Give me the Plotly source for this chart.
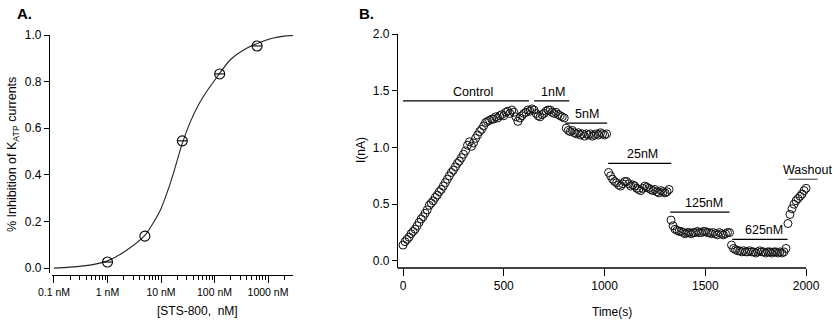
import plotly.graph_objects as go

# ---------------- Panel A data ----------------
conc_nM = [1, 5, 25, 125, 625]
inhibition = [0.026, 0.137, 0.546, 0.833, 0.953]

fit_conc_nM = [0.1, 0.2, 0.5, 1, 2, 5, 7, 10, 14, 17.5, 25, 35, 50, 75, 100, 200, 400, 700, 1200,
               2000, 3000]
fit_inhibition = [0.000, 0.004, 0.014, 0.031, 0.068, 0.140, 0.190, 0.255, 0.345, 0.415, 0.535,
                  0.625, 0.700, 0.765, 0.805, 0.895, 0.943, 0.968, 0.986, 0.995, 0.998]

a_xtick_vals = [0.1, 1, 10, 100, 1000]
a_xtick_text = ["0.1 nM", "1 nM", "10 nM", "100 nM", "1000 nM"]
a_minor_vals = [0.2, 0.3, 0.4, 0.5, 0.6, 0.7, 0.8, 0.9,
                2, 3, 4, 5, 6, 7, 8, 9,
                20, 30, 40, 50, 60, 70, 80, 90,
                200, 300, 400, 500, 600, 700, 800, 900,
                2000, 3000]

# ---------------- Panel B data ----------------
control_t = [0, 10, 20, 30, 40, 50, 60, 70, 80, 90, 100, 110, 120, 130, 140, 150, 160, 170, 180, 190,
             200, 210, 220, 230, 240, 250, 260, 270, 280, 290, 300, 310, 320, 330, 340, 350, 360, 370,
             380, 390, 400, 410, 420, 430, 440, 450, 460, 470, 480, 490, 500, 510, 520, 530, 540, 550,
             560, 570, 580, 590, 600, 610, 620, 630]
control_i = [0.14, 0.17, 0.19, 0.21, 0.24, 0.26, 0.28, 0.31, 0.34, 0.37, 0.39, 0.42, 0.45, 0.49, 0.51,
             0.53, 0.56, 0.58, 0.61, 0.63, 0.66, 0.69, 0.72, 0.75, 0.78, 0.80, 0.83, 0.86, 0.88, 0.91,
             0.94, 0.97, 1.02, 1.05, 1.01, 1.04, 1.08, 1.11, 1.14, 1.16, 1.19, 1.22, 1.23, 1.24, 1.25,
             1.25, 1.27, 1.26, 1.28, 1.29, 1.28, 1.31, 1.32, 1.30, 1.33, 1.31, 1.27, 1.23, 1.26, 1.28,
             1.30, 1.31, 1.33, 1.32]
nm1_t = [640, 650, 660, 670, 680, 690, 700, 710, 720, 730, 740, 750, 760, 770, 780, 790, 800]
nm1_i = [1.34, 1.33, 1.30, 1.28, 1.27, 1.29, 1.30, 1.32, 1.33, 1.33, 1.31, 1.30, 1.31, 1.29, 1.28,
         1.27, 1.26]
nm5_t = [810, 820, 830, 840, 850, 860, 870, 880, 890, 900, 910, 920, 930, 940, 950, 960, 970, 980,
         990, 1000, 1010]
nm5_i = [1.17, 1.15, 1.14, 1.15, 1.13, 1.12, 1.13, 1.11, 1.12, 1.10, 1.12, 1.11, 1.12, 1.10, 1.11,
         1.12, 1.11, 1.13, 1.12, 1.11, 1.12]
nm25_t = [1020, 1030, 1040, 1050, 1060, 1070, 1080, 1090, 1100, 1110, 1120, 1130, 1140, 1150, 1160,
          1170, 1180, 1190, 1200, 1210, 1220, 1230, 1240, 1250, 1260, 1270, 1280, 1290, 1300, 1310,
          1320]
nm25_i = [0.78, 0.75, 0.72, 0.70, 0.69, 0.67, 0.66, 0.68, 0.70, 0.70, 0.68, 0.66, 0.67, 0.66, 0.64,
          0.63, 0.62, 0.64, 0.66, 0.65, 0.64, 0.63, 0.62, 0.63, 0.61, 0.60, 0.62, 0.61, 0.60, 0.61,
          0.63]
nm125_t = [1330, 1340, 1350, 1360, 1370, 1380, 1390, 1400, 1410, 1420, 1430, 1440, 1450, 1460, 1470,
           1480, 1490, 1500, 1510, 1520, 1530, 1540, 1550, 1560, 1570, 1580, 1590, 1600, 1610, 1620]
nm125_i = [0.36, 0.31, 0.28, 0.27, 0.26, 0.26, 0.25, 0.24, 0.25, 0.25, 0.24, 0.25, 0.25, 0.26, 0.25,
           0.25, 0.26, 0.26, 0.25, 0.25, 0.24, 0.25, 0.24, 0.23, 0.25, 0.24, 0.23, 0.24, 0.25, 0.25]
nm625_t = [1630, 1640, 1650, 1660, 1670, 1680, 1690, 1700, 1710, 1720, 1730, 1740, 1750, 1760, 1770,
           1780, 1790, 1800, 1810, 1820, 1830, 1840, 1850, 1860, 1870, 1880, 1890, 1900]
nm625_i = [0.14, 0.11, 0.10, 0.09, 0.09, 0.08, 0.09, 0.08, 0.08, 0.09, 0.08, 0.08, 0.07, 0.08, 0.09,
           0.08, 0.08, 0.07, 0.08, 0.08, 0.07, 0.08, 0.08, 0.07, 0.08, 0.07, 0.08, 0.11]
wash_t = [1910, 1920, 1930, 1940, 1950, 1960, 1970, 1980, 1990, 2000]
wash_i = [0.33, 0.41, 0.46, 0.50, 0.53, 0.55, 0.57, 0.59, 0.62, 0.64]

bar_labels = ["Control", "1nM", "5nM", "25nM", "125nM", "625nM", "Washout"]
bar_start = [0, 650, 805, 1018, 1326, 1634, 1913]
bar_end = [625, 825, 1013, 1331, 1620, 1908, 2057]
bar_level = [1.41, 1.41, 1.215, 0.86, 0.43, 0.19, 0.72]
label_t = [348, 745, 914, 1186, 1495, 1793, 2007]

# ---------------- layout geometry ----------------
W, H = 840, 322
FONT = "Liberation Sans, Arial, sans-serif"
BLACK = "#000000"


def px_x(p):
    return p / W


def px_y(p):
    return 1 - p / H


a_xrange = [-1.037, 3.467]
a_yrange = [-0.021, 1.0]
b_xrange = [-24.8, 2069]
b_yrange = [-0.062, 2.0]
b_axis_end = 2000

fig = go.Figure()

# Panel A: fitted curve
fig.add_trace(go.Scatter(
    x=fit_conc_nM, y=fit_inhibition, mode="lines",
    line=dict(color="#222222", width=1.1, shape="spline", smoothing=0.8),
    xaxis="x", yaxis="y", showlegend=False, hoverinfo="skip", cliponaxis=False))
# Panel A: data points (open circles with inner dash)
fig.add_trace(go.Scatter(
    x=conc_nM, y=inhibition, mode="markers",
    marker=dict(symbol="circle-open", size=10, color=BLACK, line=dict(width=1.1, color=BLACK)),
    xaxis="x", yaxis="y", showlegend=False))
fig.add_trace(go.Scatter(
    x=[c for c in conc_nM if c != 5], y=[v for c, v in zip(conc_nM, inhibition) if c != 5],
    mode="markers",
    marker=dict(symbol="line-ew-open", size=7, color=BLACK, line=dict(width=1.1, color=BLACK)),
    xaxis="x", yaxis="y", showlegend=False, hoverinfo="skip"))

# Panel B: current trace segments
for ts, vs in [(control_t, control_i), (nm1_t, nm1_i), (nm5_t, nm5_i), (nm25_t, nm25_i),
               (nm125_t, nm125_i), (nm625_t, nm625_i), (wash_t, wash_i)]:
    fig.add_trace(go.Scatter(
        x=ts, y=vs, mode="markers",
        marker=dict(symbol="circle-open", size=8, color="#111111", line=dict(width=1, color="#111111")),
        xaxis="x2", yaxis="y2", showlegend=False))

shapes = []
annotations = []
for lab, s, e, lv, lt in zip(bar_labels, bar_start, bar_end, bar_level, label_t):
    col = "#555555" if lab == "Washout" else BLACK
    shapes.append(dict(type="line", xref="x2", yref="y2", x0=s, x1=e, y0=lv, y1=lv,
                       line=dict(color=col, width=1.2)))
    annotations.append(dict(x=lt, y=lv, xref="x2", yref="y2", text=lab, showarrow=False,
                            xanchor="center", yanchor="bottom", yshift=0,
                            font=dict(family=FONT, size=12.5, color=BLACK)))

# Panel B x-axis line ending at t=2000
frac_end = (b_axis_end - b_xrange[0]) / (b_xrange[1] - b_xrange[0])
shapes.append(dict(type="line", xref="x2 domain", yref="y2 domain", x0=0, x1=frac_end, y0=0, y1=0,
                   line=dict(color=BLACK, width=1.4)))

# Titles and panel letters
annotations += [
    dict(x=px_x(15), y=px_y(13), xref="paper", yref="paper", text="<b>A.</b>", showarrow=False,
         xanchor="left", yanchor="middle", font=dict(family=FONT, size=15, color=BLACK)),
    dict(x=px_x(357), y=px_y(13), xref="paper", yref="paper", text="<b>B.</b>", showarrow=False,
         xanchor="left", yanchor="middle", font=dict(family=FONT, size=15, color=BLACK)),
    dict(x=px_x(13), y=px_y(155), xref="paper", yref="paper",
         text="% Inhibition of K<sub>ATP</sub> currents", showarrow=False, textangle=-90,
         xanchor="center", yanchor="middle", font=dict(family=FONT, size=12.5, color=BLACK)),
    dict(x=px_x(197), y=px_y(311), xref="paper", yref="paper", text="[STS-800,\u00a0 nM]",
         showarrow=False, xanchor="center", yanchor="middle",
         font=dict(family=FONT, size=12, color=BLACK)),
    dict(x=px_x(361), y=px_y(150), xref="paper", yref="paper", text="I(nA)", showarrow=False,
         textangle=-90, xanchor="center", yanchor="middle",
         font=dict(family=FONT, size=12, color=BLACK)),
    dict(x=px_x(612), y=px_y(312), xref="paper", yref="paper", text="Time(s)", showarrow=False,
         xanchor="center", yanchor="middle", font=dict(family=FONT, size=12, color=BLACK)),
]

axis_common = dict(showgrid=False, zeroline=False, color=BLACK, linecolor=BLACK,
                   ticks="outside", tickcolor=BLACK, tickwidth=1.2, automargin=False)

fig.update_layout(
    template="none",
    width=W, height=H, margin=dict(l=0, r=0, t=0, b=0, pad=0),
    paper_bgcolor="white", plot_bgcolor="white",
    font=dict(family=FONT, size=12, color=BLACK),
    showlegend=False,
    xaxis=dict(domain=[px_x(52), px_x(293)], type="log", range=a_xrange, anchor="free",
               position=px_y(275),
               tickvals=a_xtick_vals, ticktext=a_xtick_text, ticklen=7,
               tickfont=dict(family=FONT, size=10.5, color=BLACK),
               minor=dict(tickvals=a_minor_vals, ticks="outside", ticklen=3.5, tickcolor=BLACK,
                          tickwidth=1, showgrid=False),
               showline=True, linewidth=1.4, **axis_common),
    yaxis=dict(domain=[px_y(273), px_y(35)], range=a_yrange, anchor="free", position=px_x(49),
               tickvals=[0, 0.2, 0.4, 0.6, 0.8, 1.0], tickformat=".1f", ticklen=5,
               tickfont=dict(family=FONT, size=12, color=BLACK),
               showline=True, linewidth=1.4, **axis_common),
    xaxis2=dict(domain=[px_x(398), px_x(820)], range=b_xrange, anchor="y2",
                tickvals=[0, 500, 1000, 1500, 2000], ticklen=7,
                tickfont=dict(family=FONT, size=12, color=BLACK),
                showline=False, **axis_common),
    yaxis2=dict(domain=[px_y(268), px_y(34)], range=b_yrange, anchor="x2",
                tickvals=[0, 0.5, 1.0, 1.5, 2.0], tickformat=".1f", ticklen=5,
                tickfont=dict(family=FONT, size=12, color=BLACK),
                showline=True, linewidth=1.4, **axis_common),
    shapes=shapes,
    annotations=annotations,
)

fig.write_html("out.html")
